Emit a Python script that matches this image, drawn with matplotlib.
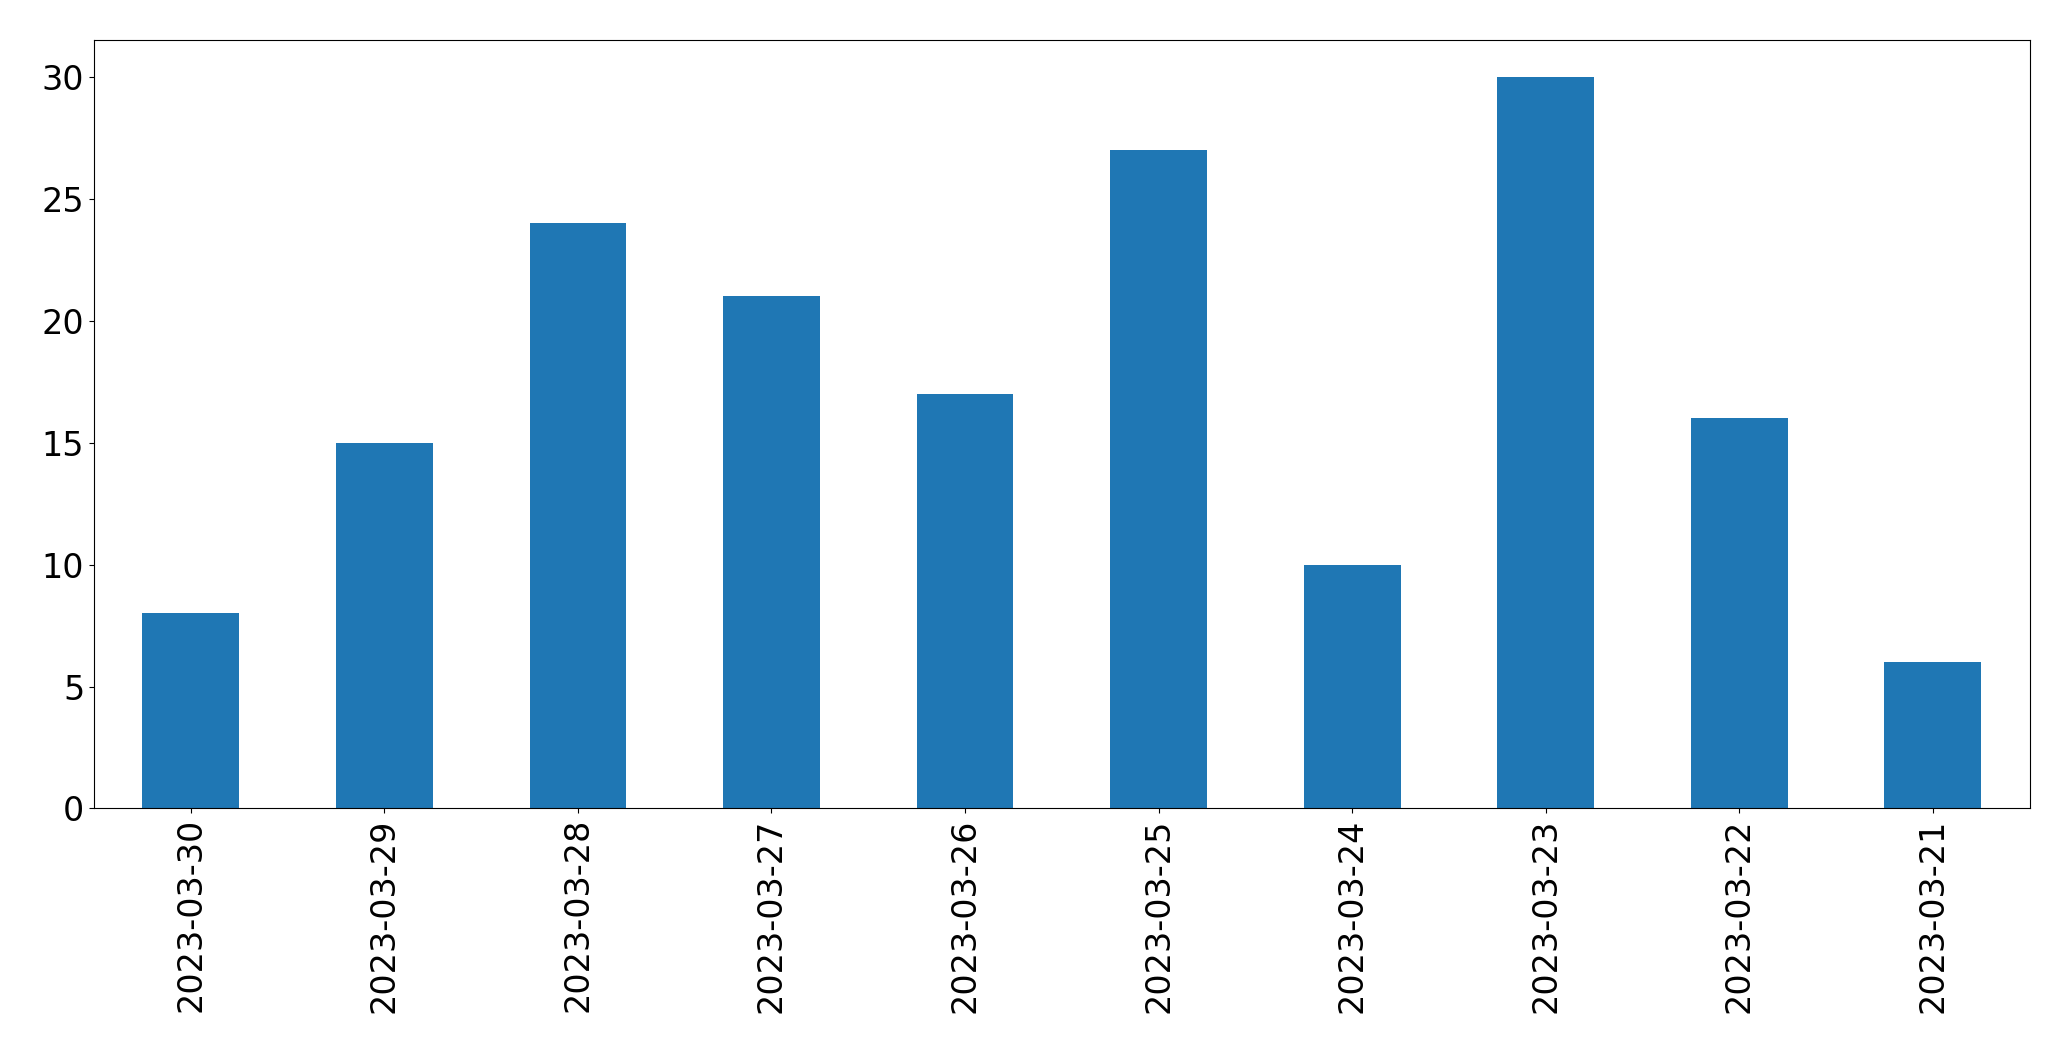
import matplotlib
matplotlib.use("Agg")
import matplotlib.pyplot as plt

dates = ["2023-03-30","2023-03-29","2023-03-28","2023-03-27","2023-03-26",
         "2023-03-25","2023-03-24","2023-03-23","2023-03-22","2023-03-21"]
counts = [8, 15, 24, 21, 17, 27, 10, 30, 16, 6]

fig = plt.figure(figsize=(20.71, 10.61), dpi=100)
ax = fig.add_axes([0.0454, 0.238, 0.9346, 0.724])
x = range(len(dates))
ax.bar(x, counts, width=0.5, color="#1f77b4")
ax.set_xticks(list(x))
ax.set_xticklabels(dates, rotation=90)
ax.set_xlim(-0.5, len(dates) - 0.5)
ax.set_ylim(0, 31.5)
ax.tick_params(labelsize=24)
fig.savefig("out.png", dpi=100)
